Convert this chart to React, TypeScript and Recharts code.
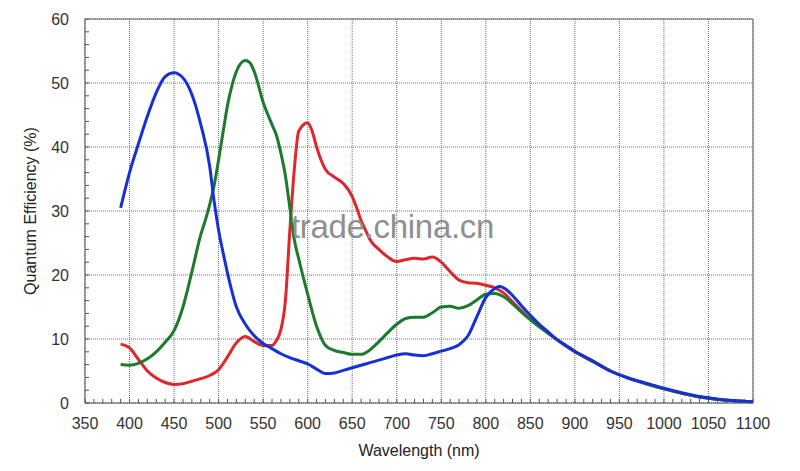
import {
  LineChart,
  Line,
  XAxis,
  YAxis,
  CartesianGrid,
  ReferenceLine,
  Label
} from "recharts";

// wavelength (nm) / quantum efficiency (%)
const blueNm = [390, 400, 410, 420, 430, 440, 450, 460, 470, 480, 490, 495, 500, 505, 510, 520, 530, 540, 550, 560, 570, 580, 590, 600, 610, 620, 630, 640, 650, 660, 670, 680, 690, 700, 710, 720, 730, 740, 750, 760, 770, 780, 790, 800, 810, 815, 820, 830, 840, 850, 860, 870, 880, 890, 900, 920, 940, 960, 980, 1000, 1020, 1040, 1060, 1080, 1100];
const blueQe = [30.5, 36, 40.5, 44.8, 48.5, 51, 51.6, 50.8, 48.2, 43.5, 37, 31.5, 27, 23.5, 20.3, 15, 12.3, 10.5, 9.3, 8.5, 7.7, 7.1, 6.6, 6.1, 5.3, 4.6, 4.7, 5.1, 5.5, 5.9, 6.3, 6.7, 7.1, 7.5, 7.7, 7.5, 7.4, 7.7, 8.1, 8.5, 9.1, 10.5, 13.5, 16.5, 17.9, 18.2, 18.0, 16.8, 15.2, 13.7, 12.3, 11.1, 9.9, 9.0, 8.1, 6.6, 5.0, 3.9, 3.1, 2.3, 1.6, 1.0, 0.6, 0.35, 0.2];

const greenNm = [390, 400, 410, 420, 430, 440, 450, 460, 470, 480, 485, 490, 495, 500, 505, 510, 515, 520, 530, 535, 540, 550, 560, 565, 570, 575, 580, 585, 590, 600, 610, 620, 630, 640, 650, 660, 670, 680, 690, 700, 710, 720, 730, 740, 750, 760, 770, 780, 790, 800, 810, 820, 830, 840, 850, 860, 870, 880, 890, 900, 920, 940, 960, 980, 1000, 1020, 1040, 1060, 1080, 1100];
const greenQe = [6.0, 5.9, 6.2, 6.9, 8.0, 9.5, 11.3, 15, 20.5, 26.3, 28.5, 31, 34, 38, 42.3, 46.5, 49.6, 51.8, 53.5, 53.2, 51.8, 47, 43.5, 41.8, 39, 35.5, 30.5, 25.5, 22.5, 17, 12, 9, 8.2, 7.9, 7.6, 7.6, 8.3, 9.6, 11.0, 12.3, 13.2, 13.4, 13.4, 14.1, 15.0, 15.1, 14.8, 15.2, 16.1, 17.0, 17.1, 16.6, 15.5, 14.2, 13.0, 11.9, 10.9, 9.9, 8.9, 8.0, 6.5, 5.0, 3.9, 3.0, 2.2, 1.5, 0.95, 0.6, 0.35, 0.2];

const redNm = [390, 400, 410, 420, 430, 440, 450, 460, 470, 480, 490, 500, 510, 520, 530, 540, 550, 560, 565, 570, 575, 580, 585, 590, 600, 605, 610, 620, 630, 640, 650, 655, 660, 665, 670, 680, 690, 700, 710, 720, 730, 740, 750, 760, 770, 780, 790, 800, 810, 820, 830, 840, 850, 860, 870, 880, 890, 900, 920, 940, 960, 980, 1000, 1020, 1040, 1060, 1080, 1100];
const redQe = [9.2, 8.6, 6.8, 5.0, 3.9, 3.2, 2.9, 3.0, 3.4, 3.8, 4.3, 5.2, 7.2, 9.4, 10.4, 9.6, 9.0, 9.0, 9.8, 11.5, 16, 27, 36.5, 42.5, 43.8, 42.5, 40, 36.5, 35.3, 34.3, 32.3, 30.5, 28.5, 27.0, 25.5, 24.0, 22.8, 22.1, 22.4, 22.6, 22.5, 22.8, 22.0, 20.5, 19.2, 18.8, 18.7, 18.4, 18.0, 17.2, 15.8, 14.4, 13.1, 12.0, 10.9, 9.9, 8.9, 8.0, 6.5, 5.0, 3.9, 3.0, 2.2, 1.5, 0.95, 0.6, 0.35, 0.2];

const xTicks = [350, 400, 450, 500, 550, 600, 650, 700, 750, 800, 850, 900, 950, 1000, 1050, 1100];
const yTicks = [0, 10, 20, 30, 40, 50, 60];
const xMinor = Array.from({ length: 76 }, (_, i) => 350 + i * 10);
const yMinor = Array.from({ length: 31 }, (_, i) => i * 2);

const blueData = blueNm.map((nm, i) => ({ nm, qe: blueQe[i] }));
const greenData = greenNm.map((nm, i) => ({ nm, qe: greenQe[i] }));
const redData = redNm.map((nm, i) => ({ nm, qe: redQe[i] }));

const font = "'Liberation Sans', Arial, sans-serif";
const tickStyle = { fontSize: 16, fill: "#333", fontFamily: font };

export default function App() {
  return (
    <div style={{ position: "absolute", left: 0, top: 0, width: 800, height: 471, background: "#fff" }}>
      <LineChart
        width={800}
        height={471}
        margin={{ top: 19, right: 47, left: 25, bottom: 13 }}
      >
        <CartesianGrid stroke="#6e6e6e" strokeDasharray="1 1" />
        <XAxis
          type="number"
          dataKey="nm"
          domain={[350, 1100]}
          ticks={xTicks}
          allowDataOverflow
          height={55}
          tickLine={false}
          tickSize={6}
          tickMargin={9}
          stroke="#555"
          tick={tickStyle}
        >
          <Label
            value="Wavelength (nm)"
            position="insideBottom"
            offset={2}
            style={{ fontSize: 16, fill: "#222", fontFamily: font }}
          />
        </XAxis>
        <YAxis
          type="number"
          domain={[0, 60]}
          ticks={yTicks}
          width={60}
          tickLine={false}
          tickSize={6}
          tickMargin={10}
          stroke="#555"
          tick={tickStyle}
        >
          <Label
            value="Quantum Efficiency (%)"
            angle={-90}
            position="insideLeft"
            offset={5}
            style={{ textAnchor: "middle", fontSize: 16, fill: "#222", fontFamily: font }}
          />
        </YAxis>
        {/* small inward tick marks along the bottom and left axes */}
        {xMinor.map((x) => (
          <ReferenceLine key={"xm" + x} segment={[{ x, y: 0 }, { x, y: 0.65 }]} stroke="#555" />
        ))}
        {yMinor.map((y) => (
          <ReferenceLine key={"ym" + y} segment={[{ x: 350, y }, { x: 354.5, y }]} stroke="#555" />
        ))}
        <ReferenceLine y={60} stroke="#666" />
        <ReferenceLine x={1100} stroke="#666" />
        <Line data={redData} dataKey="qe" type="monotone" stroke="#e0262b" strokeWidth={3} dot={false} isAnimationActive={false} />
        <Line data={greenData} dataKey="qe" type="monotone" stroke="#1b7a2c" strokeWidth={3} dot={false} isAnimationActive={false} />
        <Line data={blueData} dataKey="qe" type="monotone" stroke="#1630d8" strokeWidth={3} dot={false} isAnimationActive={false} />
      </LineChart>
      <div
        style={{
          position: "absolute",
          left: 291,
          top: 208,
          fontFamily: font,
          fontSize: 33,
          color: "#8f8f8f",
          letterSpacing: -0.3
        }}
      >
        trade.china.cn
      </div>
    </div>
  );
}
